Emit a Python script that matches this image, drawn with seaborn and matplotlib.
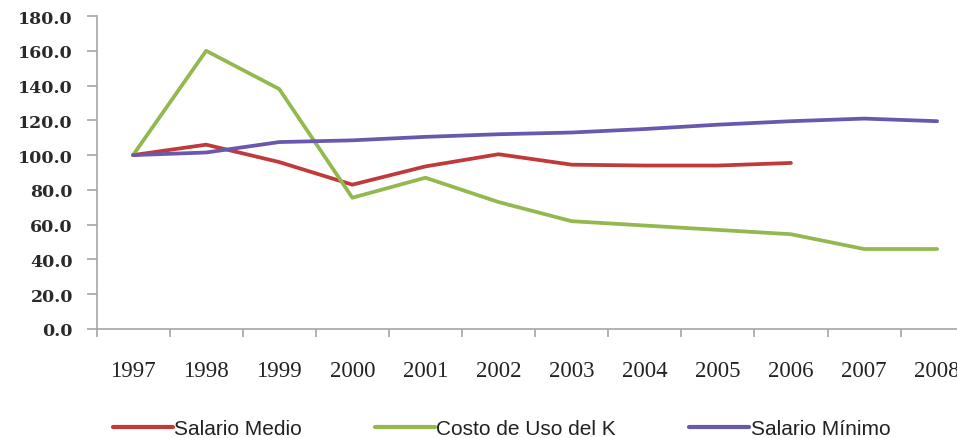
import matplotlib
matplotlib.use("Agg")
import matplotlib.pyplot as plt
import seaborn as sns
import pandas as pd
import numpy as np

# Index series (1997 = 100)
years = ["1997", "1998", "1999", "2000", "2001", "2002",
         "2003", "2004", "2005", "2006", "2007", "2008"]
salario_medio = [100.0, 106.0, 96.0, 83.0, 93.5, 100.5, 94.5, 94.0, 94.0, 95.5, np.nan, np.nan]
costo_uso_k = [100.0, 160.0, 138.0, 75.5, 87.0, 73.0, 62.0, 59.5, 57.0, 54.5, 46.0, 46.0]
salario_minimo = [100.0, 101.5, 107.5, 108.5, 110.5, 112.0, 113.0, 115.0, 117.5, 119.5, 121.0, 119.5]
series_names = ["Salario Medio", "Costo de Uso del K", "Salario Mínimo"]
y_ticks = [0, 20, 40, 60, 80, 100, 120, 140, 160, 180]

colors = ["#C0393B", "#92B84E", "#6A58AC"]

rows = []
for name, vals in zip(series_names, [salario_medio, costo_uso_k, salario_minimo]):
    for i, v in enumerate(vals):
        rows.append({"pos": i, "serie": name, "valor": v})
df = pd.DataFrame(rows).dropna()

sns.set_style("white")
plt.rcParams["font.family"] = ["DejaVu Sans"]
serif = ["Liberation Serif", "DejaVu Serif"]
sans = ["Liberation Sans", "DejaVu Sans"]

fig = plt.figure(figsize=(9.57, 4.39), dpi=100)
ax = fig.add_axes([96.5 / 957, 1 - 330 / 439, 12 * 73.1 / 957, 313 / 439])

sns.lineplot(data=df, x="pos", y="valor", hue="serie", hue_order=series_names,
             palette=colors, linewidth=2.7, ax=ax, legend=False, sort=True)

ax.set_xlim(-0.5, 11.5)
ax.set_ylim(0, 180)
ax.set_xlabel("")
ax.set_ylabel("")

axis_grey = "#A6A6A6"
for side in ["top", "right"]:
    ax.spines[side].set_visible(False)
for side in ["left", "bottom"]:
    ax.spines[side].set_color(axis_grey)
    ax.spines[side].set_linewidth(1.2)

# y axis
ax.set_yticks(y_ticks)
ax.set_yticklabels([f"{v:.1f}" for v in y_ticks], fontsize=12.5, color="#2a2a2a",
                   family=["DejaVu Serif"], fontweight="bold")
ax.tick_params(axis="y", which="major", direction="out", length=7, width=1.2,
               color=axis_grey, pad=10, left=True)

# x axis: tick marks between categories, labels at category centres
ax.set_xticks(np.arange(-0.5, 12, 1))
ax.set_xticklabels([])
ax.tick_params(axis="x", which="major", direction="out", length=6, width=1.2,
               color=axis_grey, bottom=True)
ax.set_xticks(range(len(years)), minor=True)
ax.set_xticklabels(years, minor=True, fontsize=16.5, color="#222222", family=serif)
ax.tick_params(axis="x", which="minor", length=0, pad=22)

# legend
handles = [plt.Line2D([0], [0], color=c, linewidth=3) for c in colors]
leg = fig.legend(handles, series_names, loc="center", bbox_to_anchor=(0.524, 0.022),
                 ncol=3, frameon=False, handlelength=2.9, handletextpad=0.05,
                 columnspacing=3.5, prop={"family": sans, "size": 15})
for t in leg.get_texts():
    t.set_color("#222222")

fig.savefig("out.png", dpi=100)
